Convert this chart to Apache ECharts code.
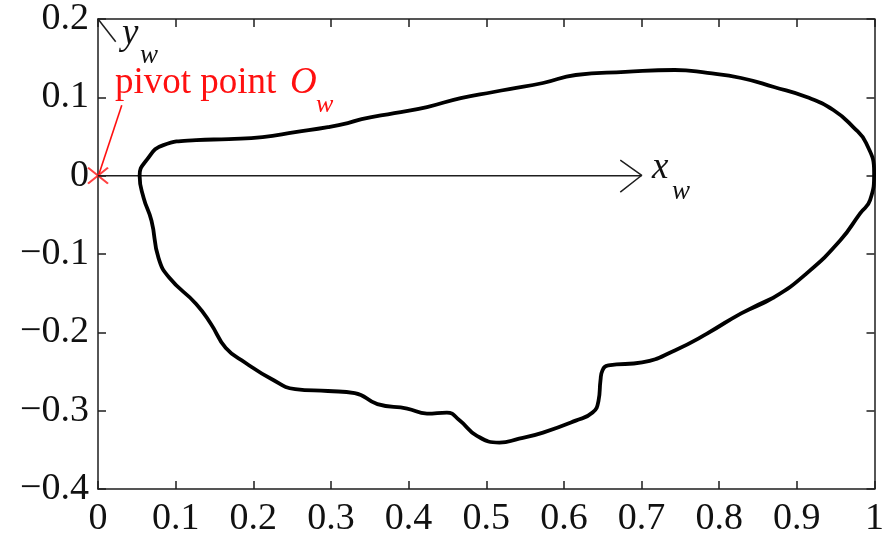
<!DOCTYPE html>
<html>
<head>
<meta charset="utf-8">
<script src="https://cdn.jsdelivr.net/npm/echarts@6/dist/echarts.min.js"></script>
<style>
  html, body { margin: 0; padding: 0; background: #fff; }
  #chart { width: 887px; height: 540px; }
</style>
</head>
<body>
<div id="chart"></div>
<script>
// Closed contour of the body outline (x, y in body frame);
// the first two points are repeated at the end so the loop closes smoothly
const contourX = [
  0.8704, 0.8283, 0.7849, 0.7428, 0.7007, 0.6573, 0.6496, 0.6471, 0.6446, 0.6369, 0.6152,
  0.5731, 0.5424, 0.5169, 0.4875, 0.4659, 0.4493, 0.4237, 0.3982, 0.3599, 0.3306,
  0.2961, 0.2540, 0.2234, 0.1902, 0.1646, 0.1455, 0.1264, 0.0919, 0.0779, 0.0689,
  0.0587, 0.0536, 0.0625, 0.0842, 0.1264, 0.1685, 0.2119, 0.2540, 0.2961, 0.3216,
  0.3395, 0.3816, 0.4237, 0.4671, 0.5092, 0.5297, 0.5731, 0.6152, 0.6790, 0.7428,
  0.7849, 0.8283, 0.8704, 0.9126, 0.9470, 0.9726, 0.9892, 0.9995, 0.9943,
  0.9815, 0.9560, 0.9126, 0.8704, 0.8283, 0.7849
];
const contourY = [
  -0.1554, -0.1758, -0.2014, -0.2231, -0.2385, -0.2423, -0.2487, -0.2615, -0.2871, -0.3024, -0.3127,
  -0.3280, -0.3357, -0.3408, -0.3318, -0.3127, -0.3024, -0.3037, -0.2973, -0.2916, -0.2775,
  -0.2749, -0.2724, -0.2596, -0.2391, -0.2199, -0.1893, -0.1637, -0.1304, -0.1049, -0.0575,
  -0.0281, 0.0000, 0.0198, 0.0390, 0.0454, 0.0467, 0.0492, 0.0556, 0.0620, 0.0671,
  0.0722, 0.0799, 0.0876, 0.0991, 0.1068, 0.1106, 0.1183, 0.1285, 0.1324, 0.1349,
  0.1311, 0.1247, 0.1132, 0.1004, 0.0838, 0.0620, 0.0416, 0.0040, -0.0313,
  -0.0480, -0.0825, -0.1247, -0.1554, -0.1758, -0.2014
];

// Pivot point of the body frame
const pivot = [0, 0];

// Body-frame axis sketches
const xwShaft = [[0, 0], [0.700, 0]];
const xwHead = [[0.6726, 0.0198], [0.7003, 0.0005], [0.6726, -0.0210]];
const ywShaft = [[0, 0.2], [0.0228, 0.171]];
const pivotPointer = [[0.0306, 0.090], [0.0013, 0.002]];

// Axis ranges and tick step
const xRange = [0, 1];
const yRange = [-0.4, 0.2];
const tickStep = 0.1;

const SERIF = '"Liberation Serif", "Times New Roman", serif';
const AXIS_COLOR = '#1e1e1e';
const RED = '#ff1010';

const chart = echarts.init(document.getElementById('chart'), null, { renderer: 'canvas' });

const fmt = v => {
  const r = Math.round(v * 10) / 10;
  const s = String(Math.abs(r));
  return (r < 0 ? '\u2212' : '') + s;
};

const tick = { show: true, inside: true, length: 8, lineStyle: { color: AXIS_COLOR, width: 1.5 } };
const line = { show: true, onZero: false, lineStyle: { color: AXIS_COLOR, width: 1.5 } };
const label = { fontFamily: SERIF, fontSize: 38, color: '#111', margin: 11, formatter: fmt };

const contour = contourX.map((x, i) => [x, contourY[i]]);

chart.setOption({
  animation: false,
  backgroundColor: '#fff',
  grid: { left: 98, right: 6, top: 19, bottom: 51 },
  xAxis: [
    { type: 'value', min: xRange[0], max: xRange[1], interval: tickStep, position: 'bottom',
      axisLine: line, axisTick: tick, axisLabel: label, splitLine: { show: false } },
    { type: 'value', min: xRange[0], max: xRange[1], interval: tickStep, position: 'top',
      axisLine: line, axisTick: tick, axisLabel: { show: false }, splitLine: { show: false } }
  ],
  yAxis: [
    { type: 'value', min: yRange[0], max: yRange[1], interval: tickStep, position: 'left',
      axisLine: line, axisTick: tick, axisLabel: Object.assign({}, label, { margin: 9 }), splitLine: { show: false } },
    { type: 'value', min: yRange[0], max: yRange[1], interval: tickStep, position: 'right',
      axisLine: line, axisTick: tick, axisLabel: { show: false }, splitLine: { show: false } }
  ],
  series: [
    { type: 'line', data: xwShaft, showSymbol: false, silent: true,
      lineStyle: { color: AXIS_COLOR, width: 1.5 } },
    { type: 'line', data: xwHead, showSymbol: false, silent: true,
      lineStyle: { color: AXIS_COLOR, width: 1.5 } },
    { type: 'line', data: ywShaft, showSymbol: false, silent: true,
      lineStyle: { color: AXIS_COLOR, width: 1.5 } },
    { type: 'line', data: contour, showSymbol: false, smooth: 0.5, clip: false, silent: true,
      lineStyle: { color: '#000', width: 3.8, join: 'round', cap: 'round' } },
    { type: 'line', data: pivotPointer, showSymbol: false, silent: true,
      lineStyle: { color: RED, width: 1.6 } },
    { type: 'scatter', data: [pivot], symbol: 'path://M0 0L10 8M10 0L0 8', symbolSize: [20, 16],
      clip: false, silent: true,
      itemStyle: { color: 'transparent', borderColor: RED, borderWidth: 2 } }
  ]
});

// Text labels: left edge and baseline position in pixels
function txt(text, left, baseline, size, italic, color) {
  return {
    type: 'text', silent: true, z: 10,
    style: {
      text: text, x: left, y: baseline - 0.3 * size,
      font: (italic ? 'italic ' : '') + size + 'px ' + SERIF,
      fill: color, align: 'left', verticalAlign: 'middle'
    }
  };
}

chart.setOption({
  graphic: [
    txt('pivot point', 115, 94, 37, false, RED),
    txt('O', 290, 94, 37, true, RED),
    txt('w', 316, 113, 26, true, RED),
    txt('x', 652, 179, 37, true, '#111'),
    txt('w', 672, 200, 27, true, '#111'),
    txt('y', 122, 45, 37, true, '#111'),
    txt('w', 140, 64, 27, true, '#111')
  ]
});
</script>
</body>
</html>
